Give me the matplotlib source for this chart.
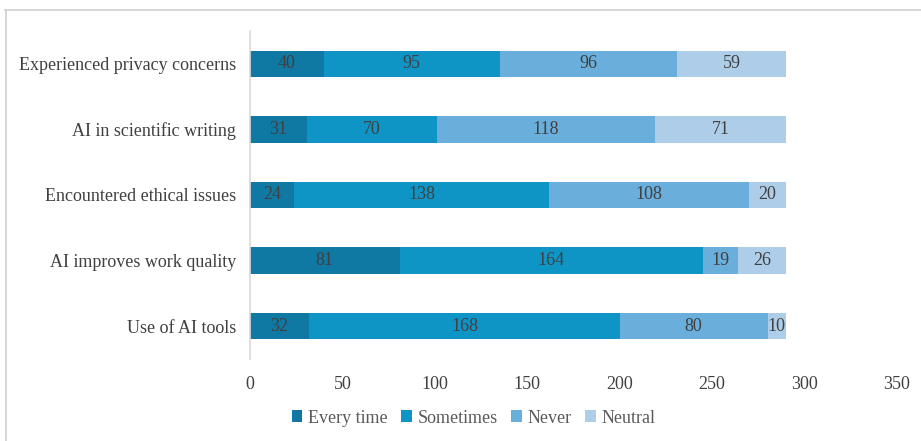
import matplotlib
matplotlib.use("Agg")
import matplotlib.pyplot as plt
from matplotlib.lines import Line2D
import numpy as np

categories = ["Use of AI tools", "AI improves work quality", "Encountered ethical issues",
              "AI in scientific writing", "Experienced privacy concerns"]
series_names = ["Every time", "Sometimes", "Never", "Neutral"]
every_time = [32, 81, 24, 31, 40]
sometimes = [168, 164, 138, 70, 95]
never = [80, 19, 108, 118, 96]
neutral = [10, 26, 20, 71, 59]
colors = ["#0f79a3", "#0f94c6", "#6aaedb", "#aecde8"]
x_ticks = [0, 50, 100, 150, 200, 250, 300, 350]

plt.rcParams['font.family'] = ['Liberation Serif', 'DejaVu Serif']

fig = plt.figure(figsize=(9.21, 4.41), dpi=100)
ax = fig.add_axes([250/921, 1-359/441, (897-250)/921, (359-31)/441])

y = np.arange(len(categories))
left = np.zeros(len(categories))
for name, vals, c in zip(series_names, [every_time, sometimes, never, neutral], colors):
    bars = ax.barh(y, vals, left=left, height=0.4, color=c, label=name, edgecolor='none')
    for b, v, l in zip(bars, vals, left):
        ax.text(l + v/2, b.get_y() + b.get_height()/2, str(v), ha='center', va='center',
                fontsize=13, color='#404040')
    left = left + np.array(vals)

ax.set_xlim(0, 350)
ax.set_ylim(-0.5, len(categories) - 0.5)
ax.set_yticks(y)
ax.set_yticklabels(categories, fontsize=13, color='#404040')
ax.set_xticks(x_ticks)
ax.set_xticklabels([str(t) for t in x_ticks], fontsize=13, color='#404040')
ax.tick_params(axis='both', length=0)
ax.tick_params(axis='x', pad=12)
ax.tick_params(axis='y', pad=10)
for s in ['top', 'right', 'bottom']:
    ax.spines[s].set_visible(False)
ax.spines['left'].set_color('#d9d9d9')
ax.spines['left'].set_linewidth(1.2)

fig.legend(loc='center', bbox_to_anchor=(0.514, 0.052), ncol=4, frameon=False,
           fontsize=13, handlelength=0.6, handleheight=0.6, handletextpad=0.3,
           columnspacing=0.75, labelcolor='#595959')

# outer chart border (top and left visible)
fig.add_artist(Line2D([5/921, 1.0], [1-9.5/441, 1-9.5/441], transform=fig.transFigure,
                      color='#d0d0d0', linewidth=1.2))
fig.add_artist(Line2D([5.5/921, 5.5/921], [0.0, 1-9.5/441], transform=fig.transFigure,
                      color='#d0d0d0', linewidth=1.2))

fig.savefig("out.png", dpi=100, facecolor='white')
